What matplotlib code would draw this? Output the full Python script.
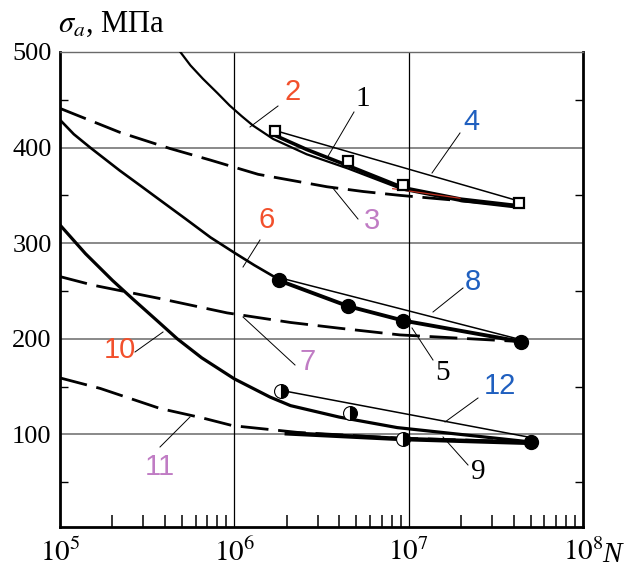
import numpy as np
import matplotlib
matplotlib.use("Agg")
import matplotlib.pyplot as plt
from matplotlib.ticker import LogLocator, MultipleLocator, NullFormatter

plt.rcParams['mathtext.fontset'] = 'stix'
plt.rcParams['font.family'] = ['Liberation Serif', 'DejaVu Serif']

RED = '#f2502c'
BLUE = '#1f5fbf'
PURPLE = '#c07cc4'

# group 1 (open squares)
n_sq = [1.7e6, 4.5e6, 9.3e6, 4.3e7]
s_sq = [417, 386, 361, 342]
n_c1 = [1.7e6, 2.6e6, 4.5e6, 9.3e6, 2.0e7, 4.3e7]
s_c1 = [413, 398, 381, 358, 346, 339]
n_c2 = [4.9e5, 5.6e5, 6.6e5, 8.0e5, 9.4e5, 1.1e6, 1.28e6, 1.67e6, 2.6e6, 4.5e6, 9.3e6, 2.0e7, 4.3e7]
s_c2 = [500, 486, 472, 457, 444, 433, 423, 409, 393, 378, 356, 344, 337]
n_c2red = [8.1e6, 1.97e7]
s_c2red = [357, 347]
n_c3 = [1e5, 2.2e5, 4.28e5, 7.26e5, 1.37e6, 3.4e6, 5.5e6, 8.9e6, 4.3e7]
s_c3 = [441, 416, 399, 387, 372, 359, 354, 350, 339]
n_c4 = [1.7e6, 4.3e7]
s_c4 = [418, 344]

# group 2 (filled circles)
n_fc = [1.8e6, 4.5e6, 9.3e6, 4.4e7]
s_fc = [261, 234, 219, 197]
n_c8 = [1.8e6, 4.4e7]
s_c8 = [264, 199]
n_c6 = [1e5, 1.2e5, 1.49e5, 2.2e5, 2.9e5, 3.75e5, 5.2e5, 7.3e5, 1.0e6, 1.3e6, 1.8e6]
s_c6 = [429, 414, 400, 376, 360, 345, 326, 306, 290, 277, 262]
n_c7 = [1e5, 1.55e5, 3.75e5, 9.1e5, 2.1e6, 4.0e6, 8.9e6, 4.4e7]
s_c7 = [265, 256, 242, 227, 217, 211, 204, 197]

# group 3 (half filled circles)
n_hc = [1.85e6, 4.6e6, 9.3e6, 5.0e7]
s_hc = [145, 122, 95, 92]
n_c12 = [1.85e6, 4.9e7]
s_c12 = [146, 97]
n_c10 = [1e5, 1.4e5, 2.0e5, 2.6e5, 3.6e5, 4.7e5, 6.5e5, 1.0e6, 1.6e6, 2.1e6, 4.0e6, 8.6e6, 5.0e7]
s_c10 = [319, 289, 261, 242, 219, 200, 180, 158, 139, 130, 118, 107, 92]
n_c11 = [1e5, 1.7e5, 3.75e5, 6.6e5, 9.8e5, 2.3e6, 8.6e6, 5.0e7]
s_c11 = [159, 148, 127, 117, 109, 102, 96, 92]
n_c9 = [2.0e6, 9.3e6, 5.0e7]
s_c9 = [101, 95, 91]

fig = plt.figure(figsize=(6.27, 5.72), dpi=100)
ax = fig.add_axes([60/627, 1-527/572, (583-60)/627, (527-52)/572])
ax.set_xscale('log')
ax.set_xlim(1e5, 1e8)
ax.set_ylim(3, 500)

# grid
for v in [100, 200, 300, 400, 500]:
    ax.axhline(v, color='#6a6a6a', lw=1.1, zorder=1)
for v in [1e6, 1e7]:
    ax.axvline(v, color='black', lw=0.9, zorder=1)

dash = (10, 3.5)
# group 1
ax.plot(n_c2, s_c2, color='black', lw=1.6, zorder=3)
ax.plot(n_c1, s_c1, color='black', lw=2.6, zorder=3)
ax.plot(n_c2red, s_c2red, color='#c03020', lw=0.9, zorder=4)
ax.plot(n_c3, s_c3, color='black', lw=2.0, dashes=dash, zorder=3)
ax.plot(n_c4, s_c4, color='black', lw=1.1, zorder=3)
ax.plot(n_sq, s_sq, ls='none', marker='s', ms=7, mfc='white', mec='black', mew=1.6, zorder=5)

# group 2
ax.plot(n_c6, s_c6, color='black', lw=1.9, zorder=3)
ax.plot(n_fc, s_fc, color='black', lw=2.8, zorder=3)
ax.plot(n_c8, s_c8, color='black', lw=1.1, zorder=3)
ax.plot(n_c7, s_c7, color='black', lw=2.0, dashes=dash, zorder=3)
ax.plot(n_fc, s_fc, ls='none', marker='o', ms=10, mfc='black', mec='black', zorder=5)

# group 3
ax.plot(n_c10, s_c10, color='black', lw=2.3, zorder=3)
ax.plot(n_c11, s_c11, color='black', lw=2.0, dashes=dash, zorder=3)
ax.plot(n_c9, s_c9, color='black', lw=3.2, zorder=3)
ax.plot(n_c12, s_c12, color='black', lw=1.1, zorder=3)
ax.plot(n_hc[:3], s_hc[:3], ls='none', marker='o', ms=10, fillstyle='right',
        mfc='black', mfcalt='white', mec='black', mew=0.8, zorder=5)
ax.plot(n_hc[3:], s_hc[3:], ls='none', marker='o', ms=10, mfc='black', mec='black', zorder=5)

# labels with leader lines (pixel coords -> data)
def px(x, y):
    return ax.transData.inverted().transform(fig.transFigure.transform((x/627, 1-y/572)))

labels = [
    ('2', RED, 'sans', (293, 92), (278, 106), (250, 127)),
    ('1', 'black', 'serif', (363, 99), (354, 112), (327, 158)),
    ('4', BLUE, 'sans', (471, 122), (460, 133), (432, 173)),
    ('3', PURPLE, 'sans', (372, 221), (358, 219), (332, 187)),
    ('6', RED, 'sans', (267, 220), (260, 240), (243, 267)),
    ('8', BLUE, 'sans', (473, 282), (463, 288), (433, 312)),
    ('5', 'black', 'serif', (443, 373), (433, 360), (412, 328)),
    ('10', RED, 'sans', (120, 350), (135, 352), (163, 332)),
    ('7', PURPLE, 'sans', (308, 362), (295, 365), (243, 317)),
    ('12', BLUE, 'sans', (500, 386), (478, 398), (445, 422)),
    ('9', 'black', 'serif', (478, 472), (468, 465), (443, 437)),
    ('11', PURPLE, 'sans', (160, 467), (160, 447), (190, 417)),
]
for txt, col, kind, tp, a, b in labels:
    fam = ['Liberation Sans Narrow', 'Liberation Sans', 'DejaVu Sans'] if kind == 'sans' else ['Liberation Serif']
    x, y = px(*tp)
    ax.text(x, y, txt, color=col, family=fam, fontsize=21, ha='center', va='center', zorder=6)
    p1 = px(*a)
    p2 = px(*b)
    ax.plot([p1[0], p2[0]], [p1[1], p2[1]], color='black', lw=0.7, zorder=4)

# ticks and spines
ax.set_xticks([1e5, 1e6, 1e7, 1e8])
ax.set_xticklabels([r'$10^{5}$', r'$10^{6}$', r'$10^{7}$', r'$10^{8}$'])
ax.xaxis.set_minor_locator(LogLocator(base=10, subs=np.arange(2, 10)))
ax.xaxis.set_minor_formatter(NullFormatter())
ax.set_yticks([100, 200, 300, 400, 500])
ax.yaxis.set_minor_locator(MultipleLocator(50))
ax.tick_params(axis='both', which='major', length=0, labelsize=19, pad=6)
ax.tick_params(axis='x', which='major', labelsize=21, pad=8)
ax.tick_params(axis='x', which='minor', direction='in', length=9, width=1.1)
ax.tick_params(axis='y', which='minor', direction='in', length=6, width=1.0, right=True)
for s in ['left', 'bottom', 'right']:
    ax.spines[s].set_linewidth(2.0)
ax.spines['top'].set_linewidth(1.0)
ax.spines['top'].set_color('#6a6a6a')

fig.text(58/627, 1-24/572, r'$\sigma_a$, МПа', fontsize=22, ha='left', va='center')
fig.text(612/627, 1-555/572, 'N', fontsize=21, style='italic', ha='center', va='center')

fig.savefig('out.png', dpi=100)
